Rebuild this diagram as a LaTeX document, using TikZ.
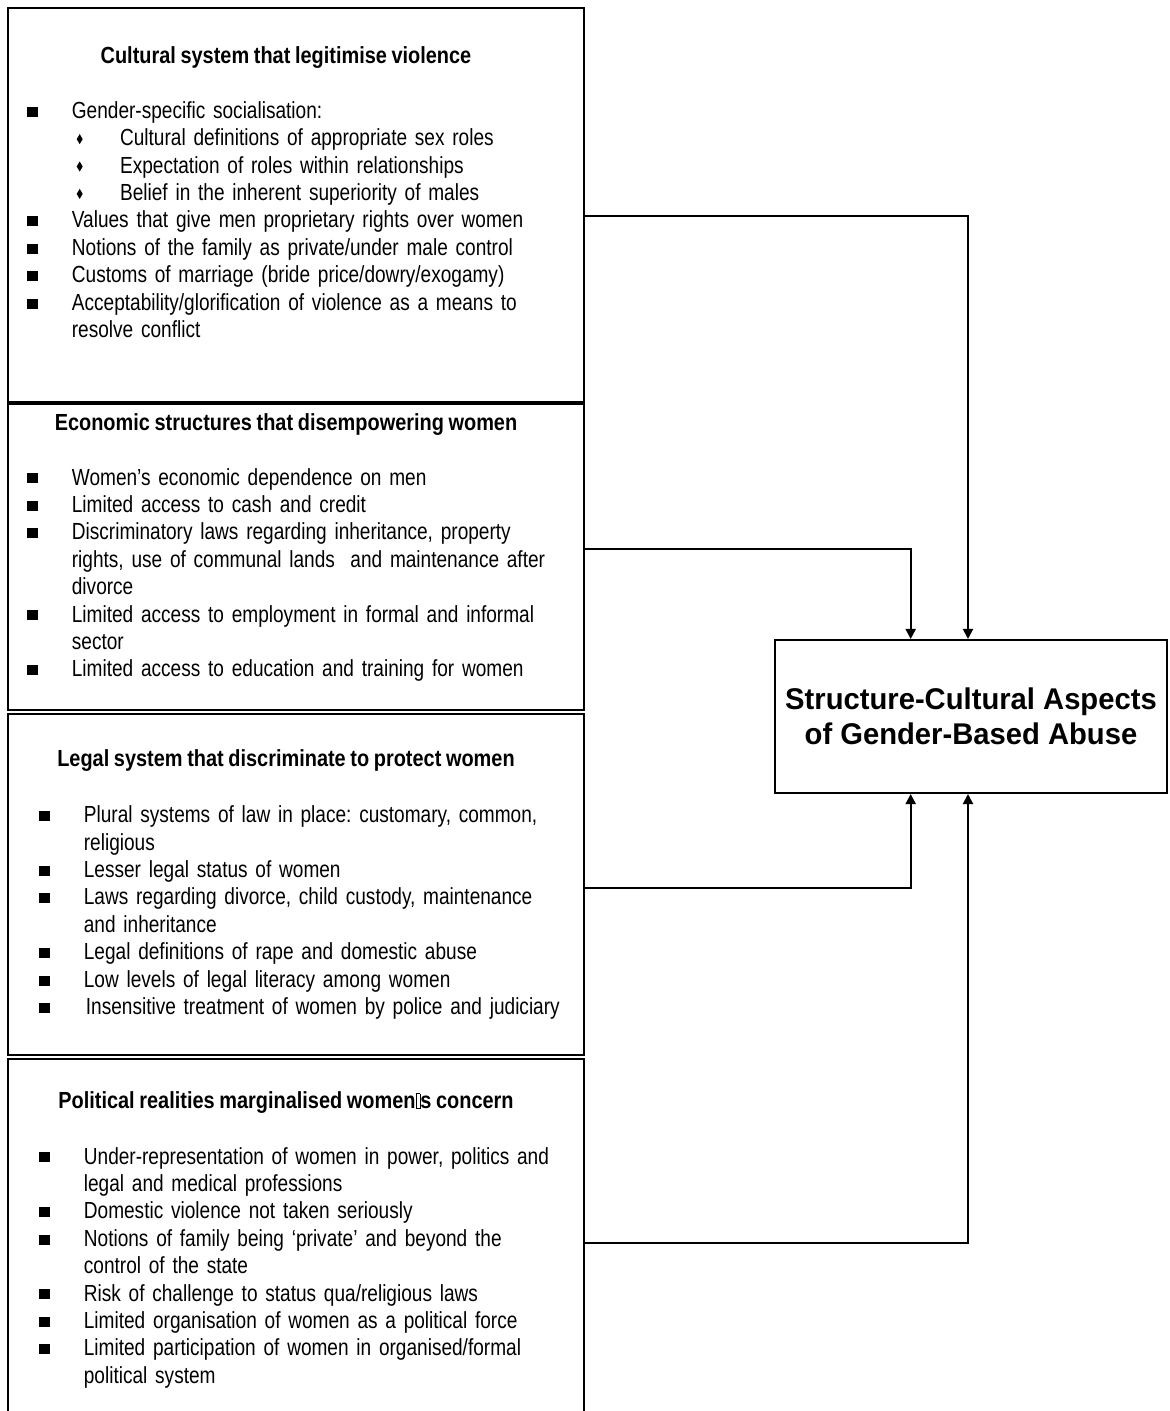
\documentclass[tikz,border=0pt]{standalone}
\usepackage{fontspec}
\setmainfont{Liberation Sans}[FakeStretch=0.818, WordSpace=0.84, BoldFeatures={FakeStretch=0.855}]
\newfontfamily\bigfont{Liberation Sans}[FakeStretch=0.975]
\usetikzlibrary{arrows.meta}

\newcommand{\sqbul}{\rule[0.04cm]{0.2875cm}{0.25cm}}
\newcommand{\dmbul}{\raisebox{0.04cm}{\scalebox{0.6}[1]{\rotatebox{45}{\rule{0.177cm}{0.177cm}}}}}
\newcommand{\sqitem}[1]{\noindent\makebox[1.1325cm][l]{\sqbul}#1\par}
\newcommand{\dmitem}[1]{\noindent\hspace*{1.1325cm}\makebox[1.205cm][l]{\hspace{0.12cm}\dmbul}#1\par}
\newcommand{\moreline}[1]{\noindent\hspace*{1.1325cm}#1\par}
\newcommand{\tofu}{{\setlength\fboxsep{0pt}\setlength\fboxrule{0.3pt}\fbox{\rule{0pt}{0.36cm}\hspace{0.1cm}}}}
\frenchspacing

\begin{document}
\begin{tikzpicture}[x=0.025cm, y=-0.025cm]
\tikzstyle{panel} = [rectangle, draw=black, line width=0.05cm, minimum width=14.4cm]
\tikzstyle{heading} = [anchor=base, inner sep=0pt, font=\bfseries\fontsize{16.57pt}{19.5pt}\selectfont]
\tikzstyle{bullets} = [anchor=base west, inner sep=0pt, text width=14cm, align=left, font=\fontsize{16.57pt}{19.49pt}\selectfont]
\tikzstyle{target} = [rectangle, draw=black, line width=0.05cm, minimum width=9.8cm, minimum height=3.825cm, align=center, font=\bigfont\bfseries\fontsize{21.3pt}{24.9pt}\selectfont]
\tikzstyle{arrow} = [line width=0.05cm, -{Triangle[width=0.25cm, length=0.25cm]}]

\useasboundingbox (0,0) rectangle (1169,1411);
\clip (0,0) rectangle (1169,1411);

\node [panel, minimum height=9.825cm] (cult) at (296,205) {};
\node [panel, minimum height=7.65cm] (econ) at (296,557) {};
\node [panel, minimum height=8.5125cm] (legal) at (296,884.75) {};
\node [panel, minimum height=9.5125cm] (polit) at (296,1249.75) {};
\node [target] (gba) at (971,716.5) {Structure-Cultural Aspects\\of Gender-Based Abuse};

\node [heading] (culthead) at (286,63.3) {Cultural system that legitimise violence};
\node [bullets] (cultlist) at (26.3,118.3) {%
\sqitem{Gender-specific socialisation:}
\dmitem{Cultural definitions of appropriate sex roles}
\dmitem{Expectation of roles within relationships}
\dmitem{Belief in the inherent superiority of males}
\sqitem{Values that give men proprietary rights over women}
\sqitem{Notions of the family as private/under male control}
\sqitem{Customs of marriage (bride price/dowry/exogamy)}
\sqitem{Acceptability/glorification of violence as a means to}
\moreline{resolve conflict}};

\node [heading] (econhead) at (286,430) {Economic structures that disempowering women};
\node [bullets] (econlist) at (26.3,485) {%
\sqitem{Women’s economic dependence on men}
\sqitem{Limited access to cash and credit}
\sqitem{Discriminatory laws regarding inheritance, property}
\moreline{rights, use of communal lands\ \ and maintenance after}
\moreline{divorce}
\sqitem{Limited access to employment in formal and informal}
\moreline{sector}
\sqitem{Limited access to education and training for women}};

\node [heading] (legalhead) at (286,766.7) {Legal system that discriminate to protect women};
\node [bullets] (legallist) at (38.3,822.7) {%
\sqitem{Plural systems of law in place: customary, common,}
\moreline{religious}
\sqitem{Lesser legal status of women}
\sqitem{Laws regarding divorce, child custody, maintenance}
\moreline{and inheritance}
\sqitem{Legal definitions of rape and domestic abuse}
\sqitem{Low levels of legal literacy among women}
\sqitem{\hspace{0.05cm}Insensitive treatment of women by police and judiciary}};

\node [heading] (polithead) at (286,1108.3) {Political realities marginalised women\tofu s concern};
\node [bullets] (politlist) at (38.3,1164) {%
\sqitem{Under-representation of women in power, politics and}
\moreline{legal and medical professions}
\sqitem{Domestic violence not taken seriously}
\sqitem{Notions of family being ‘private’ and beyond the}
\moreline{control of the state}
\sqitem{Risk of challenge to status qua/religious laws}
\sqitem{Limited organisation of women as a political force}
\sqitem{Limited participation of women in organised/formal}
\moreline{political system}};

\draw [arrow] ([yshift=-0.275cm]cult.east) -| ([xshift=-0.075cm]gba.north);
\draw [arrow] ([yshift=0.2075cm]econ.east) -| ([xshift=-1.5075cm]gba.north);
\draw [arrow] ([yshift=-0.08cm]legal.east) -| ([xshift=-1.5075cm]gba.south);
\draw [arrow] ([yshift=0.17cm]polit.east) -| ([xshift=-0.075cm]gba.south);
\end{tikzpicture}
\end{document}
